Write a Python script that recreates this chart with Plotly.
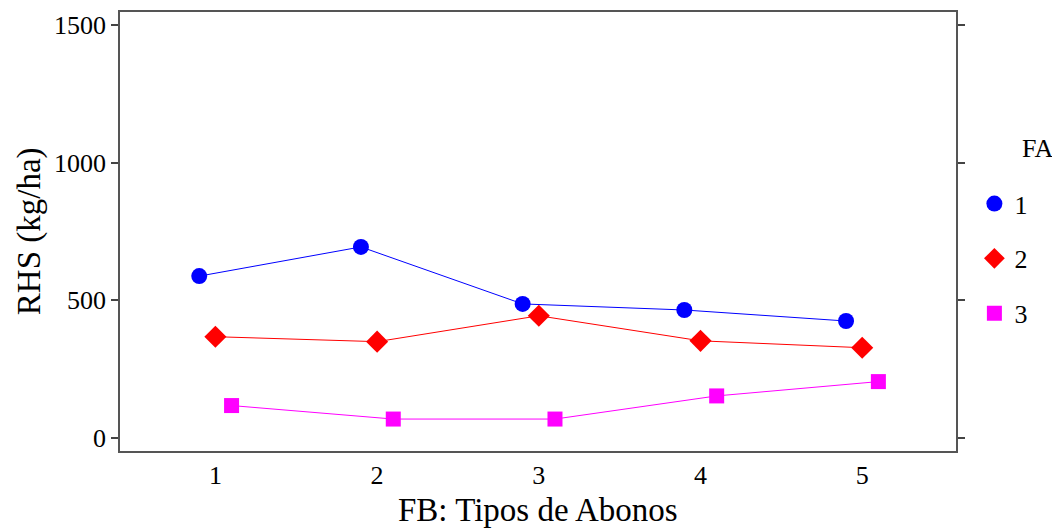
import plotly.graph_objects as go

fb_levels = [1, 2, 3, 4, 5]
fa_names = ["1", "2", "3"]
rhs_fa1 = [588, 694, 487, 465, 425]
rhs_fa2 = [368, 350, 444, 353, 328]
rhs_fa3 = [118, 69, 69, 153, 205]
y_ticks = [0, 500, 1000, 1500]

series = [rhs_fa1, rhs_fa2, rhs_fa3]
colors = ["#0000FF", "#FF0000", "#FF00FF"]
symbols = ["circle", "diamond", "square"]
sizes = [16, 17, 15]
dodge = [-0.1, 0.0, 0.1]

FONT = "Times New Roman, Liberation Serif, serif"
# page body has an 8px margin, so the figure is sized to end at the window edge
W, H = 1052, 521
ML, MR, MT, MB = 112, 104, 4, 78

fig = go.Figure()
for name, vals, c, s, sz, d in zip(fa_names, series, colors, symbols, sizes, dodge):
    xs = [v + d for v in fb_levels]
    fig.add_trace(go.Scatter(
        x=xs, y=vals, mode="lines", showlegend=False, hoverinfo="skip",
        line=dict(color=c, width=1),
    ))
    fig.add_trace(go.Scatter(
        x=xs, y=vals, name=name, legendgroup=name, mode="markers",
        marker=dict(color=c, symbol=s, size=sz, line=dict(width=0)),
    ))

fig.update_layout(
    width=W, height=H,
    margin=dict(l=ML, r=MR, t=MT, b=MB, autoexpand=False),
    paper_bgcolor="white", plot_bgcolor="white",
    font=dict(family=FONT, size=26, color="black"),
    showlegend=True,
    legend=dict(x=1.022, xanchor="left", y=0.617, yanchor="top",
                font=dict(family=FONT, size=26), tracegroupgap=18,
                itemsizing="trace", bgcolor="rgba(0,0,0,0)"),
    annotations=[
        dict(text="FA", xref="paper", yref="paper", x=1.077, y=0.69,
             xanchor="left", yanchor="middle", showarrow=False,
             font=dict(family=FONT, size=26)),
        dict(text="RHS (kg/ha)", xref="paper", yref="paper", x=-0.108, y=0.5,
             xanchor="center", yanchor="middle", textangle=-90, showarrow=False,
             font=dict(family=FONT, size=33)),
        dict(text="FB: Tipos de Abonos", xref="paper", yref="paper", x=0.5, y=-0.134,
             xanchor="center", yanchor="middle", showarrow=False,
             font=dict(family=FONT, size=33)),
    ],
)
fig.update_xaxes(
    range=[0.41, 5.58], tickvals=fb_levels, ticktext=[str(v) for v in fb_levels],
    ticks="", showgrid=False, zeroline=False, automargin=False,
    showline=True, linecolor="#555555", linewidth=1.5, mirror=True,
    tickfont=dict(family=FONT, size=26),
)
fig.update_yaxes(
    range=[-47, 1547], tickvals=y_ticks, ticktext=[str(v) for v in y_ticks],
    ticks="outside", ticklen=7, tickcolor="#444444", tickwidth=1.5,
    showgrid=False, zeroline=False, automargin=False,
    showline=True, linecolor="#555555", linewidth=1.5, mirror="ticks",
    tickfont=dict(family=FONT, size=26),
)

fig.write_html("out.html")
